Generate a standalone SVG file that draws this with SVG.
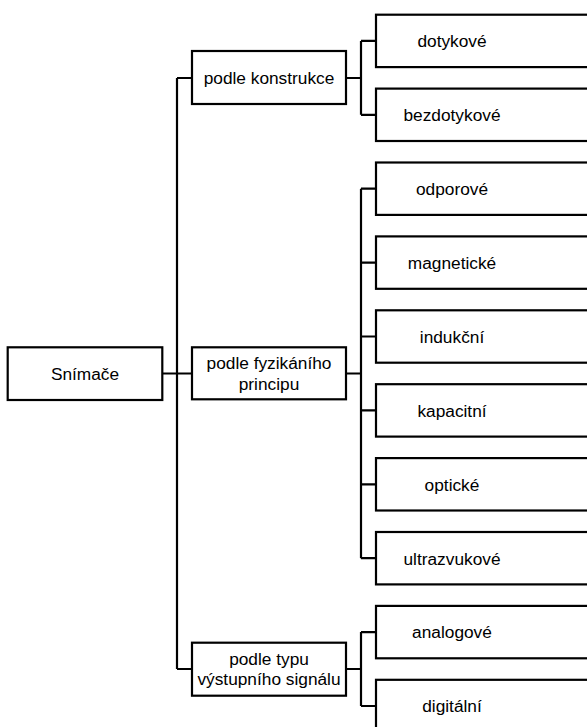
<svg xmlns="http://www.w3.org/2000/svg" width="587" height="727" viewBox="0 0 587 727">
<style>
rect{fill:#fff;stroke:#000;stroke-width:2.2}
text{font-family:"Liberation Sans",Arial,sans-serif;font-size:17.3px;fill:#000;text-anchor:middle}
.c path{fill:none;stroke:#000;stroke-width:2.2}
</style>
<rect x="0" y="0" width="587" height="727" style="stroke:none"/>
<g class="c" id="connectors">
<path d="M162.3 373.5H192M177 78V669M177 78H192M177 669H192"/>
<path d="M346 78H361M361 40.9V114.8M361 40.9H376M361 114.8H376"/>
<path d="M346 373.5H361M361 188.7V558.2M361 188.7H376M361 262.6H376M361 336.5H376M361 410.4H376M361 484.3H376M361 558.2H376"/>
<path d="M346 669H361M361 632.1V706M361 632.1H376M361 706H376"/>
</g>
<g id="snimace"><rect x="7.7" y="347.3" width="154.6" height="52.7"/><text x="85" y="380">Snímače</text></g>
<g id="konstrukce"><rect x="192" y="51" width="154" height="53"/><text x="269" y="84">podle konstrukce</text></g>
<g id="princip"><rect x="192" y="347.3" width="154" height="52"/><text x="269" y="369">podle fyzikáního</text><text x="269" y="389.5">principu</text></g>
<g id="signal"><rect x="192" y="642.7" width="154" height="53"/><text x="269" y="665">podle typu</text><text x="269" y="684.5">výstupního signálu</text></g>
<g id="dotykove"><rect x="376" y="14.7" width="230" height="52.4"/><text x="452" y="47">dotykové</text></g>
<g id="bezdotykove"><rect x="376" y="88.6" width="230" height="52.4"/><text x="452" y="121">bezdotykové</text></g>
<g id="odporove"><rect x="376" y="162.5" width="230" height="52.4"/><text x="452" y="195">odporové</text></g>
<g id="magneticke"><rect x="376" y="236.4" width="230" height="52.4"/><text x="452" y="269">magnetické</text></g>
<g id="indukcni"><rect x="376" y="310.3" width="230" height="52.4"/><text x="452" y="342.8">indukční</text></g>
<g id="kapacitni"><rect x="376" y="384.2" width="230" height="52.4"/><text x="452" y="416.7">kapacitní</text></g>
<g id="opticke"><rect x="376" y="458.1" width="230" height="52.4"/><text x="452" y="490.6">optické</text></g>
<g id="ultrazvukove"><rect x="376" y="532" width="230" height="52.4"/><text x="452" y="564.5">ultrazvukové</text></g>
<g id="analogove"><rect x="376" y="605.9" width="230" height="52.4"/><text x="452" y="638.4">analogové</text></g>
<g id="digitalni"><rect x="376" y="679.8" width="230" height="52.4"/><text x="452" y="712.3">digitální</text></g>
</svg>
